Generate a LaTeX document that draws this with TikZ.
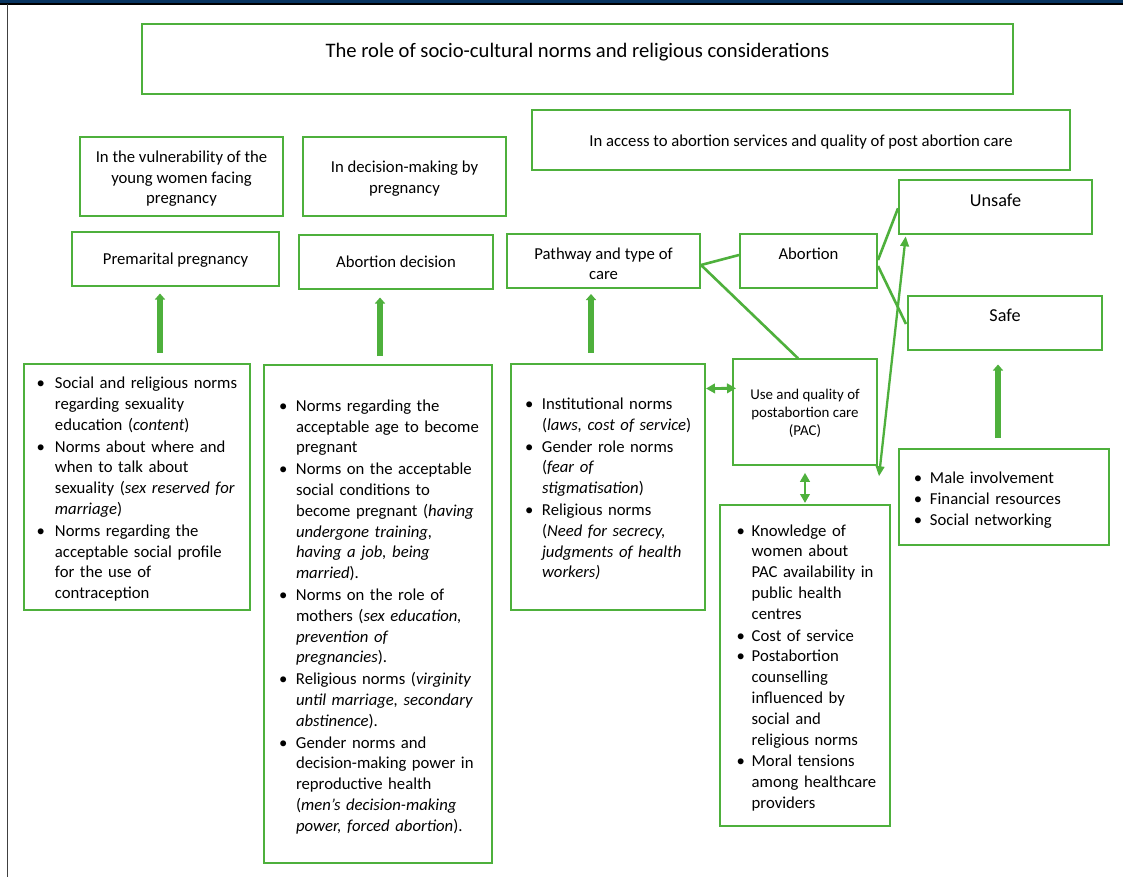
\documentclass[tikz,border=0pt]{standalone}
\usepackage{fontspec}
\setmainfont{Carlito}
\usetikzlibrary{arrows.meta,calc}
\definecolor{gr}{RGB}{78,176,60}
\definecolor{navyband}{RGB}{8,52,96}
\definecolor{edgegray}{RGB}{64,64,64}
\newcommand\itm[2]{\par\noindent\hbox{\makebox[0pt][c]{\textbullet}\hspace{#1}\begin{tabular}[t]{@{}l@{}}#2\end{tabular}}\par}
\tikzset{
  box/.style={draw=gr, line width=2bp, inner sep=0pt, align=center,
    font=\fontsize{16.7bp}{20.8bp}\selectfont},
  lst/.style={box, align=left},
  fatarrow/.style={draw=gr, line width=5.3bp, -{Triangle[length=6bp,width=10bp]}},
  dblarrow/.style={draw=gr, line width=2.8bp, {Triangle[length=9bp,width=9.5bp]}-{Triangle[length=9bp,width=9.5bp]}},
  thinarrow/.style={draw=gr, line width=2.3bp, {Triangle[length=10bp,width=8.5bp]}-{Triangle[length=10bp,width=8.5bp]}},
  lnk/.style={draw=gr, line width=2.6bp}
}
\begin{document}
\begin{tikzpicture}[x=1bp,y=-1bp]
\useasboundingbox (0,0) rectangle (1123,877);
\fill[white] (0,0) rectangle (1123,877);
% page edges
\fill[navyband] (0,0) rectangle (1123,3.4);
\draw[black, line width=1.2bp] (0,4) -- (1123,4);
\draw[edgegray, line width=1.5bp] (7.6,4) -- (7.6,877);

% title and headers
\node[box, minimum width=871bp, minimum height=70bp, font=\fontsize{20.6bp}{25bp}\selectfont,
  text height=14bp, text depth=17.5bp] (title) at (577.5,59)
  {The role of socio-cultural norms and religious considerations};
\node[box, minimum width=203bp, minimum height=79bp, text height=56bp, text depth=1.8bp] (vul) at (181.5,176.8)
  {In the vulnerability of the\\young women facing\\pregnancy};
\node[box, minimum width=203bp, minimum height=79bp, text height=36bp, text depth=2bp] (dec) at (404.5,176.5)
  {In decision-making by\\pregnancy};
\node[box, minimum width=538bp, minimum height=60bp, text height=12bp, text depth=0bp] (acc) at (801,140)
  {In access to abortion services and quality of post abortion care};

% second row
\node[box, minimum width=207bp, minimum height=54bp, text height=12bp, text depth=1bp] (prem) at (175.5,258.5)
  {Premarital pregnancy};
\node[box, minimum width=194bp, minimum height=54bp, text height=13bp, text depth=0.6bp] (abd) at (396,261.5)
  {Abortion decision};
\node[box, minimum width=193bp, minimum height=54bp, text height=40bp, text depth=2.4bp] (path) at (603.5,261)
  {Pathway and type of\\care};
\node[box, minimum width=137bp, minimum height=54bp, text height=12bp, text depth=16bp] (abo) at (808.5,261)
  {Abortion};
\node[box, minimum width=193bp, minimum height=54bp, font=\fontsize{18.2bp}{22bp}\selectfont,
  text height=12bp, text depth=13.2bp] (uns) at (995.5,207.3) {Unsafe};
\node[box, minimum width=194bp, minimum height=54bp, font=\fontsize{18.2bp}{22bp}\selectfont,
  text height=12bp, text depth=14.6bp] (safe) at (1005,323) {Safe};
\node[box, minimum width=144bp, minimum height=106bp, font=\fontsize{14.9bp}{18.2bp}\selectfont,
  text height=50bp, text depth=3.2bp] (pac) at (805,412.3)
  {Use and quality of\\postabortion care\\(PAC)};

% bullet boxes
\node[lst, minimum width=226bp, minimum height=246bp, text width=192.6bp, inner xsep=16.7bp] (b1) at (137,486.5) {%
\itm{14.3bp}{Social and religious norms\\regarding sexuality\\education (\textit{content})}%
\itm{14.3bp}{Norms about where and\\when to talk about\\sexuality (\textit{sex reserved for}\\\textit{marriage})}%
\itm{14.3bp}{Norms regarding the\\acceptable social profile\\for the use of\\contraception}};

\node[lst, minimum width=228bp, minimum height=498bp, text width=189.4bp, inner xsep=19.3bp] (b2) at (378,614) {%
\itm{12.7bp}{Norms regarding the\\acceptable age to become\\pregnant}%
\itm{12.7bp}{Norms on the acceptable\\social conditions to\\become pregnant (\textit{having}\\\textit{undergone training,}\\\textit{having a job, being}\\\textit{married}).}%
\itm{12.7bp}{Norms on the role of\\mothers (\textit{sex education,}\\\textit{prevention of}\\\textit{pregnancies}).}%
\itm{12.7bp}{Religious norms (\textit{virginity}\\\textit{until marriage, secondary}\\\textit{abstinence}).}%
\itm{12.7bp}{Gender norms and\\decision-making power in\\reproductive health\\(\textit{men’s decision-making}\\\textit{power, forced abortion}).}};

\node[lst, minimum width=194bp, minimum height=246bp, text width=157.4bp, inner xsep=18.3bp] (b3) at (608,486.5) {%
\itm{12.7bp}{Institutional norms\\(\textit{laws, cost of service})}%
\itm{12.7bp}{Gender role norms\\(\textit{fear of}\\\textit{stigmatisation})}%
\itm{12.7bp}{Religious norms\\(\textit{Need for secrecy,}\\\textit{judgments of health}\\\textit{workers)}}};

\node[lst, minimum width=170bp, minimum height=321bp, text width=128.6bp, inner xsep=20.7bp] (b4) at (805,665) {%
\itm{11bp}{Knowledge of\\women about\\PAC availability in\\public health\\centres}%
\itm{11bp}{Cost of service}%
\itm{11bp}{Postabortion\\counselling\\influenced by\\social and\\religious norms}%
\itm{11bp}{Moral tensions\\among healthcare\\providers}};

\node[lst, minimum width=210bp, minimum height=96bp, text width=172bp, inner xsep=19bp] (b5) at (1004,497) {%
\itm{12bp}{Male involvement}%
\itm{12bp}{Financial resources}%
\itm{12bp}{Social networking}};

% thick upward arrows
\draw[fatarrow] ($(b1.north)+(23,-10)$) -- ($(prem.south)+(-15.5,7)$);
\draw[fatarrow] ($(b2.north)+(2,-8)$) -- ($(abd.south)+(-16,8)$);
\draw[fatarrow] ($(b3.north)+(-17,-10)$) -- ($(path.south)+(-12.5,5)$);
\draw[fatarrow] ($(b5.north)+(-6,-10)$) -- ($(safe.south)+(-7,13.5)$);

% double arrows
\draw[dblarrow] ($(b3.north east)+(0,26)$) -- ($(pac.north west)+(4,30)$);
\draw[dblarrow] ($(pac.south)+(0,6.5)$) -- ($(b4.north)+(0,-0.5)$);
\draw[thinarrow] ($(pac.south east)+(1,10)$) -- ($(uns.south west)+(7.7,1)$);

% links
\draw[lnk] ($(path.east)+(0,4)$) -- ($(abo.west)+(0,-6)$);
\draw[lnk] ($(path.east)+(0,4)$) -- ($(pac.north)+(-7,0)$);
\draw[lnk] ($(abo.east)+(0,-1)$) -- ($(uns.west)+(0,1)$);
\draw[lnk] ($(abo.east)+(0,5)$) -- ($(safe.west)+(-1,1)$);
\end{tikzpicture}
\end{document}
